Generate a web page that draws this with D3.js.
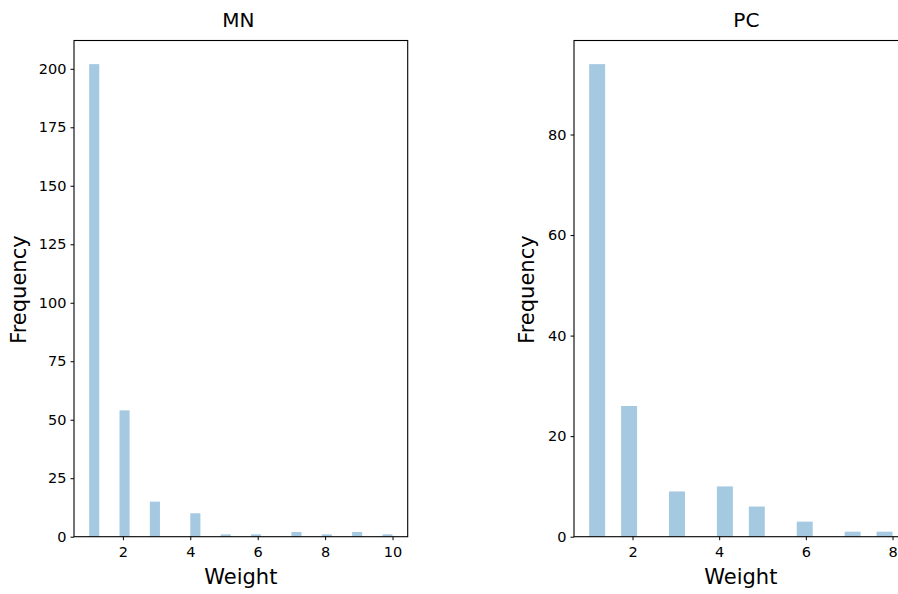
<!DOCTYPE html>
<html>
<head>
<meta charset="utf-8">
<script src="https://cdn.jsdelivr.net/npm/d3@7"></script>
<style>
  html, body { margin: 0; padding: 0; background: #fff; overflow: hidden; }
  svg { display: block; font-family: "DejaVu Sans", sans-serif; }
</style>
</head>
<body>
<svg id="chart" width="898" height="594"></svg>
<script>
// ---- Data ----
const mnWeights = [1, 2, 3, 4, 5, 6, 7, 8, 9, 10];
const mnCounts  = [202, 54, 15, 10, 1, 1, 2, 1, 2, 1];
const mnBins = 30;
const mnYTicks = [0, 25, 50, 75, 100, 125, 150, 175, 200];
const mnXTicks = [2, 4, 6, 8, 10];

const pcWeights = [1, 2, 3, 4, 5, 6, 7, 8];
const pcCounts  = [94, 26, 9, 10, 6, 3, 1, 1];
const pcBins = 19;
const pcYTicks = [0, 20, 40, 60, 80];
const pcXTicks = [2, 4, 6, 8];

const titles = ["MN", "PC"];
const xLabel = "Weight";
const yLabel = "Frequency";

// ---- Layout ----
const svg = d3.select("#chart");
const barColor = "#a5c9e1";
const panels = [
  {title: titles[0], weights: mnWeights, counts: mnCounts, nbins: mnBins, yTicks: mnYTicks, xTicks: mnXTicks,
   left: 74, right: 407.7, titleDx: -2.5, yLabelX: 25.5},
  {title: titles[1], weights: pcWeights, counts: pcCounts, nbins: pcBins, yTicks: pcYTicks, xTicks: pcXTicks,
   left: 574, right: 907.7, titleDx: 5.5, yLabelX: 533.5}
];
const plotTop = 40.5, plotBottom = 536.7;

panels.forEach(p => {
  const lo = d3.min(p.weights), hi = d3.max(p.weights);
  const span = hi - lo;
  const w = span / p.nbins;
  const maxC = d3.max(p.counts);

  const x = d3.scaleLinear().domain([lo - 0.05 * span, hi + 0.05 * span]).range([p.left, p.right]);
  const y = d3.scaleLinear().domain([0, maxC * 1.05]).range([plotBottom, plotTop]);

  const g = svg.append("g");

  // bars (histogram bins)
  const bars = p.weights.map((v, i) => {
    let idx = Math.floor((v - lo) / w + 1e-9);
    if (idx >= p.nbins) idx = p.nbins - 1;
    return {x0: lo + idx * w, x1: lo + (idx + 1) * w, c: p.counts[i]};
  });
  g.selectAll("rect.bar").data(bars).enter().append("rect")
    .attr("class", "bar")
    .attr("x", d => x(d.x0))
    .attr("width", d => x(d.x1) - x(d.x0))
    .attr("y", d => y(d.c))
    .attr("height", d => y(0) - y(d.c))
    .attr("fill", barColor);

  // axes
  const xAxis = d3.axisBottom(x).tickValues(p.xTicks).tickSize(3.5).tickPadding(4).tickFormat(d3.format("d"));
  const yAxis = d3.axisLeft(y).tickValues(p.yTicks).tickSize(3.5).tickPadding(4).tickFormat(d3.format("d"));

  const gx = g.append("g").attr("transform", `translate(0,${plotBottom})`).call(xAxis);
  const gy = g.append("g").attr("transform", `translate(${p.left},0)`).call(yAxis);
  [gx, gy].forEach(a => {
    a.select(".domain").remove();
    a.selectAll(".tick line").attr("stroke", "#000").attr("stroke-width", 1);
    a.selectAll(".tick text").attr("fill", "#000").style("font-size", "14.5px").style("font-family", "DejaVu Sans");
  });
  gx.selectAll(".tick text").attr("dy", "0.88em");

  // frame
  g.append("rect")
    .attr("x", p.left).attr("y", plotTop)
    .attr("width", p.right - p.left).attr("height", plotBottom - plotTop)
    .attr("fill", "none").attr("stroke", "#000").attr("stroke-width", 1.1);

  const cx = (p.left + p.right) / 2;
  g.append("text").attr("x", cx + p.titleDx).attr("y", 27)
    .attr("text-anchor", "middle").style("font-size", "20px").text(p.title);
  g.append("text").attr("x", cx).attr("y", 584)
    .attr("text-anchor", "middle").style("font-size", "21px").text(xLabel);
  g.append("text")
    .attr("transform", `translate(${p.yLabelX},${(plotTop + plotBottom) / 2 + 1}) rotate(-90)`)
    .attr("text-anchor", "middle").style("font-size", "21px").text(yLabel);
});
</script>
</body>
</html>
